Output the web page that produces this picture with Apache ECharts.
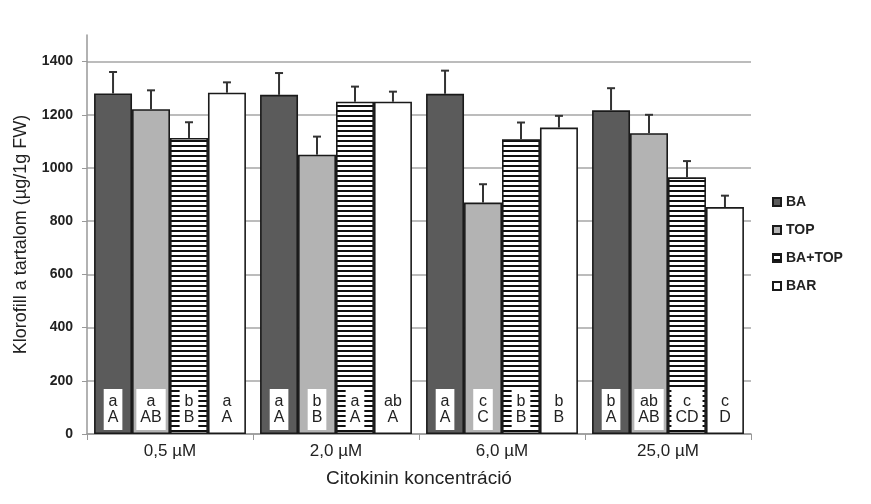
<!DOCTYPE html>
<html>
<head>
<meta charset="utf-8">
<script src="https://cdn.jsdelivr.net/npm/echarts@6/dist/echarts.min.js"></script>
<style>html,body{margin:0;padding:0;background:#fff;}#c{width:871px;height:504px;}</style>
</head>
<body>
<div id="c"></div>
<script>
const categories = ['0,5 µM', '2,0 µM', '6,0 µM', '25,0 µM'];
const seriesNames = ['BA', 'TOP', 'BA+TOP', 'BAR'];
const BA = [1280, 1275, 1279, 1217];
const TOP = [1221, 1050, 870, 1131];
const BATOP = [1113, 1249, 1108, 965];
const BAR = [1283, 1249, 1152, 853];
const BA_err = [81, 82, 87, 83];
const TOP_err = [71, 68, 69, 69];
const BATOP_err = [59, 57, 63, 61];
const BAR_err = [39, 38, 44, 43];
const BA_lbl = ['a\nA', 'a\nA', 'a\nA', 'b\nA'];
const TOP_lbl = ['a\nAB', 'b\nB', 'c\nC', 'ab\nAB'];
const BATOP_lbl = ['b\nB', 'a\nA', 'b\nB', 'c\nCD'];
const BAR_lbl = ['a\nA', 'ab\nA', 'b\nB', 'c\nD'];
const yTicks = [0, 200, 400, 600, 800, 1000, 1200, 1400];

const values = [BA, TOP, BATOP, BAR];
const errs = [BA_err, TOP_err, BATOP_err, BAR_err];
const lbls = [BA_lbl, TOP_lbl, BATOP_lbl, BAR_lbl];

// stripe pattern
const pc = document.createElement('canvas');
pc.width = 8; pc.height = 5;
const pctx = pc.getContext('2d');
pctx.fillStyle = '#ffffff'; pctx.fillRect(0, 0, 8, 5);
pctx.fillStyle = '#111111'; pctx.fillRect(0, 0, 8, 2);

const fills = ['#5b5b5b', '#b3b3b3', {image: pc, repeat: 'repeat'}, '#ffffff'];
const GAP = 0.085;
const FONT = 'Liberation Sans, Arial, sans-serif';

const series = [];
for (let k = 0; k < 4; k++) {
  series.push({
    name: seriesNames[k],
    type: 'bar',
    barGap: '0%',
    barCategoryGap: (GAP * 100) + '%',
    data: values[k].map((v, i) => ({value: v, lbl: lbls[k][i]})),
    itemStyle: {color: fills[k], borderColor: '#1a1a1a', borderWidth: 1.6},
    label: {
      show: true,
      position: 'insideBottom',
      distance: 4,
      formatter: p => p.data.lbl,
      backgroundColor: '#ffffff',
      padding: [5, 4, 4, 4],
      fontFamily: FONT,
      fontSize: 16,
      lineHeight: 16,
      color: '#222',
      align: 'center'
    },
    z: 2
  });
}
for (let k = 0; k < 4; k++) {
  series.push({
    type: 'custom',
    name: seriesNames[k] + ' err',
    z: 5,
    silent: true,
    data: values[k].map((v, i) => [i, v, errs[k][i]]),
    renderItem: (params, api) => {
      const band = api.size([1, 0])[0];
      const bw = band * (1 - GAP) / 4;
      const x = api.coord([api.value(0), 0])[0] + (k - 1.5) * bw;
      const yBar = api.coord([api.value(0), api.value(1)])[1];
      const yTop = api.coord([api.value(0), api.value(1) + api.value(2)])[1];
      const st = {stroke: '#333', lineWidth: 2};
      return {
        type: 'group',
        children: [
          {type: 'line', shape: {x1: x, y1: yBar, x2: x, y2: yTop}, style: st},
          {type: 'line', shape: {x1: x - 4, y1: yTop, x2: x + 4, y2: yTop}, style: st}
        ]
      };
    }
  });
}

const chart = echarts.init(document.getElementById('c'), null, {renderer: 'canvas'});
chart.setOption({
  animation: false,
  backgroundColor: '#ffffff',
  textStyle: {fontFamily: FONT},
  grid: {left: 87, right: 120, top: 35, bottom: 70, containLabel: false},
  legend: {
    data: seriesNames,
    orient: 'vertical',
    left: 767,
    top: 190,
    itemWidth: 8,
    itemHeight: 8,
    itemGap: 14,
    icon: 'rect',
    textStyle: {fontSize: 14, fontWeight: 'bold', color: '#222', fontFamily: FONT}
  },
  xAxis: {
    type: 'category',
    data: categories,
    name: 'Citokinin koncentráció',
    nameLocation: 'middle',
    nameGap: 35,
    nameTextStyle: {fontSize: 19, color: '#222'},
    axisLine: {lineStyle: {color: '#999', width: 1.5}},
    axisTick: {show: true, length: 6, lineStyle: {color: '#999'}},
    axisLabel: {fontSize: 17, color: '#222', margin: 9}
  },
  yAxis: {
    type: 'value',
    min: 0,
    max: 1500,
    interval: 200,
    name: 'Klorofill a tartalom (µg/1g FW)',
    nameLocation: 'middle',
    nameGap: 57,
    nameTextStyle: {fontSize: 18, color: '#222'},
    axisLine: {show: true, lineStyle: {color: '#999', width: 1.5}},
    axisTick: {show: true, length: 5, customValues: yTicks, lineStyle: {color: '#999'}},
    axisLabel: {fontSize: 14, fontWeight: 'bold', color: '#222', margin: 14, customValues: yTicks, formatter: v => String(v)},
    splitLine: {show: true, lineStyle: {color: '#a6a6a6', width: 1.5}}
  },
  series: series
});
</script>
</body>
</html>
